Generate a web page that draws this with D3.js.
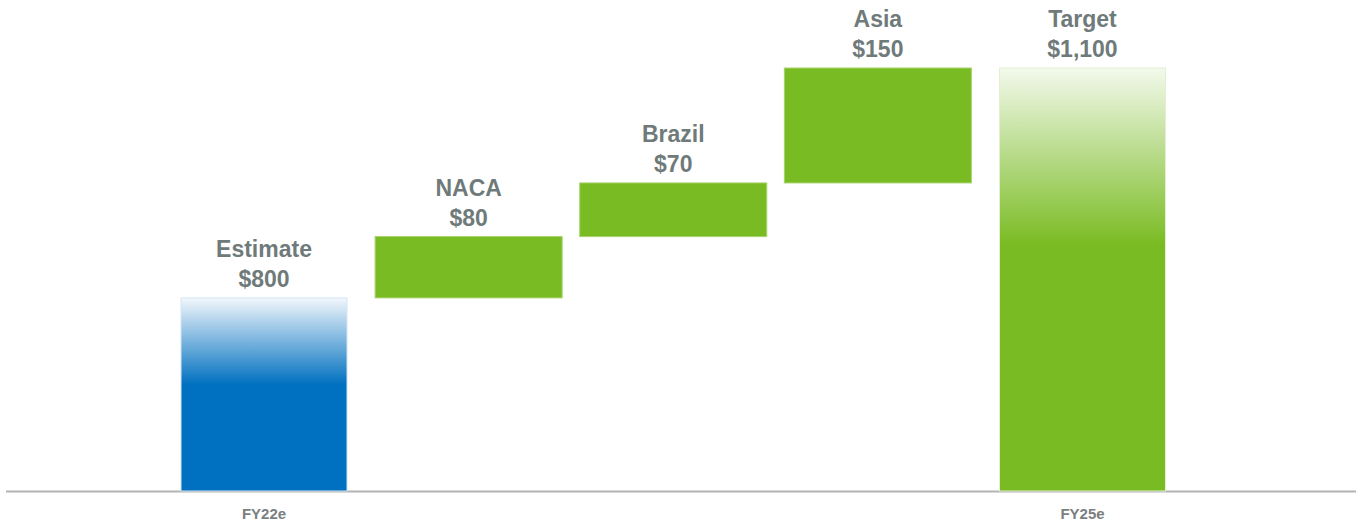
<!DOCTYPE html>
<html>
<head>
<meta charset="utf-8">
<script src="https://cdn.jsdelivr.net/npm/d3@7"></script>
<style>
  body { margin: 0; background: #fff; }
  svg { display: block; font-family: "Liberation Sans", Arial, sans-serif; }
</style>
</head>
<body>
<div id="vis"></div>
<script>
var width = 1361,
    height = 529;

// data
var names = ["Estimate", "NACA", "Brazil", "Asia", "Target"];
var values = [800, 80, 70, 150, 1100];
var valueLabels = ["$800", "$80", "$70", "$150", "$1,100"];
var kinds = ["total", "delta", "delta", "delta", "total"];
var xLabels = ["FY22e", "", "", "", "FY25e"];
var axisMin = 548;

// waterfall start/end
var running = 0;
var bars = names.map(function(n, i) {
  var start, end;
  if (kinds[i] == "total") {
    start = axisMin; end = values[i]; running = values[i];
  } else {
    start = running; end = running + values[i]; running = end;
  }
  return {name: n, label: valueLabels[i], kind: kinds[i], start: start, end: end, xl: xLabels[i], i: i};
});

var svg = d3.select("#vis").append("svg")
    .attr("width", width)
    .attr("height", height);

var x = d3.scaleBand()
    .domain(names)
    .range([170.5, 1176])
    .paddingInner(0.086)
    .paddingOuter(0);

var y = d3.scaleLinear()
    .domain([axisMin, 1100])
    .range([491, 68]);

// totals are a bit narrower than the steps
function inset(d) { return d.kind == "total" ? 10.5 : 0; }

var defs = svg.append("defs");

var blue = defs.append("linearGradient")
    .attr("id", "gBlue").attr("x1", 0).attr("y1", 0).attr("x2", 0).attr("y2", 1);
blue.append("stop").attr("offset", "0%").attr("stop-color", "#f2f7fc");
blue.append("stop").attr("offset", "45%").attr("stop-color", "#0070c0");
blue.append("stop").attr("offset", "100%").attr("stop-color", "#0070c0");

var green = defs.append("linearGradient")
    .attr("id", "gGreen").attr("x1", 0).attr("y1", 0).attr("x2", 0).attr("y2", 1);
green.append("stop").attr("offset", "0%").attr("stop-color", "#f3f9ec");
green.append("stop").attr("offset", "42%").attr("stop-color", "#79bb22");
green.append("stop").attr("offset", "100%").attr("stop-color", "#79bb22");

// axis line
svg.append("line")
    .attr("x1", 6).attr("x2", 1356)
    .attr("y1", y(axisMin) + 0.5).attr("y2", y(axisMin) + 0.5)
    .attr("stroke", "#b3b3b3")
    .attr("stroke-width", 2);

svg.selectAll("rect.bar")
    .data(bars)
    .enter()
    .append("rect")
    .attr("class", "bar")
    .attr("x", function(d) { return x(d.name) + inset(d); })
    .attr("y", function(d) { return y(d.end); })
    .attr("width", function(d) { return x.bandwidth() - 2 * inset(d); })
    .attr("height", function(d) { return y(d.start) - y(d.end); })
    .attr("fill", function(d) {
      if (d.i == 0) return "url(#gBlue)";
      if (d.kind == "total") return "url(#gGreen)";
      return "#79bb22";
    })
    .attr("stroke", function(d) {
      if (d.i == 0) return "#d4e6f5";
      if (d.kind == "total") return "#e2f0d2";
      return "#a6d36a";
    })
    .attr("stroke-width", 1);

var lbl = svg.selectAll("g.lbl")
    .data(bars)
    .enter()
    .append("g")
    .attr("class", "lbl")
    .attr("transform", function(d) {
      return "translate(" + (x(d.name) + x.bandwidth() / 2) + "," + (y(d.end) - 11) + ")";
    });

lbl.append("text")
    .attr("text-anchor", "middle")
    .attr("y", -30)
    .style("font-size", "23px")
    .style("font-weight", "bold")
    .style("fill", "#6f7a7a")
    .text(function(d) { return d.name; });

lbl.append("text")
    .attr("text-anchor", "middle")
    .attr("y", 0)
    .style("font-size", "23px")
    .style("font-weight", "bold")
    .style("fill", "#6f7a7a")
    .text(function(d) { return d.label; });

svg.selectAll("text.xl")
    .data(bars.filter(function(d) { return d.xl != ""; }))
    .enter()
    .append("text")
    .attr("class", "xl")
    .attr("x", function(d) { return x(d.name) + x.bandwidth() / 2; })
    .attr("y", 519)
    .attr("text-anchor", "middle")
    .style("font-size", "15px")
    .style("font-weight", "bold")
    .style("fill", "#7a7f7f")
    .text(function(d) { return d.xl; });
</script>
</body>
</html>
